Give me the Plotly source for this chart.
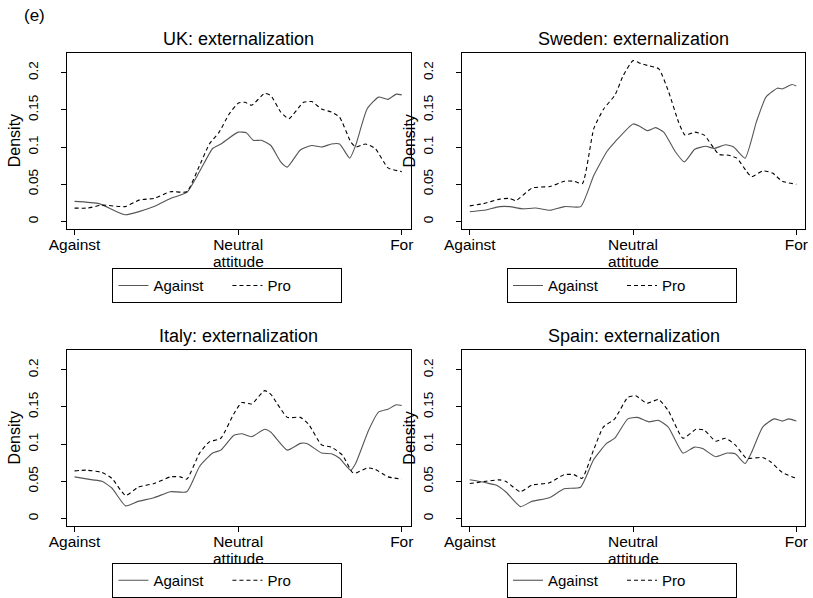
import plotly.graph_objects as go

# ---------------- data (x: 0 = Against, 5 = Neutral, 10 = For) ----------------
uk_against_x = [0, 0.75, 1.54, 2.43, 2.93, 3.43, 3.82, 4.22, 4.47, 5.0, 5.25, 5.46, 5.71, 6.0, 6.3, 6.5, 6.9, 7.25, 7.55, 7.85, 8.1, 8.41, 8.59, 8.94, 9.29, 9.58, 9.83, 10]
uk_against_y = [0.027, 0.024, 0.009, 0.020, 0.031, 0.039, 0.067, 0.098, 0.104, 0.120, 0.119, 0.109, 0.109, 0.102, 0.080, 0.073, 0.096, 0.102, 0.100, 0.104, 0.104, 0.085, 0.102, 0.151, 0.167, 0.164, 0.171, 0.170]
uk_pro_x = [0, 0.4, 0.84, 1.54, 1.99, 2.43, 2.93, 3.43, 3.78, 4.12, 4.42, 4.72, 5.01, 5.21, 5.41, 5.81, 6.0, 6.3, 6.55, 7.0, 7.25, 7.55, 7.85, 8.1, 8.44, 8.59, 8.89, 9.19, 9.58, 10]
uk_pro_y = [0.018, 0.018, 0.022, 0.020, 0.029, 0.031, 0.040, 0.040, 0.071, 0.104, 0.120, 0.144, 0.159, 0.160, 0.156, 0.172, 0.169, 0.147, 0.138, 0.160, 0.161, 0.151, 0.147, 0.140, 0.107, 0.100, 0.104, 0.098, 0.072, 0.067]

se_against_x = [0, 0.42, 0.92, 1.22, 1.61, 2.01, 2.46, 2.9, 3.4, 3.8, 4.2, 4.45, 5.0, 5.2, 5.44, 5.69, 5.94, 6.29, 6.57, 6.89, 7.23, 7.48, 7.83, 8.08, 8.43, 8.78, 9.07, 9.42, 9.57, 9.87, 10]
se_against_y = [0.013, 0.015, 0.020, 0.020, 0.017, 0.018, 0.015, 0.020, 0.020, 0.062, 0.094, 0.107, 0.131, 0.128, 0.122, 0.126, 0.120, 0.094, 0.080, 0.097, 0.101, 0.098, 0.103, 0.100, 0.085, 0.134, 0.167, 0.179, 0.178, 0.184, 0.182]
se_pro_x = [0, 0.42, 0.92, 1.21, 1.41, 1.91, 2.46, 2.9, 3.2, 3.45, 3.8, 4.1, 4.45, 4.7, 5.0, 5.24, 5.49, 5.79, 6.09, 6.39, 6.59, 6.89, 7.18, 7.48, 7.63, 7.93, 8.18, 8.48, 8.63, 8.98, 9.27, 9.57, 10]
se_pro_y = [0.021, 0.024, 0.030, 0.031, 0.028, 0.045, 0.047, 0.054, 0.054, 0.051, 0.125, 0.151, 0.170, 0.196, 0.216, 0.212, 0.209, 0.205, 0.174, 0.134, 0.116, 0.120, 0.116, 0.098, 0.090, 0.089, 0.085, 0.067, 0.060, 0.068, 0.065, 0.054, 0.050]

it_against_x = [0, 0.55, 0.84, 1.14, 1.56, 1.94, 2.43, 2.93, 3.43, 3.82, 4.22, 4.47, 4.87, 5.11, 5.41, 5.81, 6.0, 6.5, 6.9, 7.1, 7.55, 7.85, 8.1, 8.44, 8.59, 8.99, 9.29, 9.58, 9.83, 10]
it_against_y = [0.056, 0.052, 0.050, 0.041, 0.017, 0.023, 0.028, 0.036, 0.036, 0.070, 0.088, 0.092, 0.112, 0.114, 0.110, 0.120, 0.116, 0.092, 0.101, 0.101, 0.088, 0.087, 0.081, 0.065, 0.074, 0.119, 0.143, 0.147, 0.153, 0.152]
it_pro_x = [0, 0.35, 0.84, 1.14, 1.56, 1.94, 2.43, 2.93, 3.23, 3.43, 3.82, 4.12, 4.47, 4.87, 5.11, 5.41, 5.81, 6.0, 6.2, 6.5, 6.9, 7.15, 7.55, 7.85, 8.19, 8.49, 8.59, 8.94, 9.19, 9.58, 10]
it_pro_y = [0.064, 0.065, 0.062, 0.054, 0.031, 0.042, 0.047, 0.056, 0.056, 0.053, 0.088, 0.103, 0.108, 0.141, 0.156, 0.154, 0.172, 0.167, 0.154, 0.136, 0.136, 0.127, 0.099, 0.096, 0.085, 0.062, 0.061, 0.068, 0.066, 0.056, 0.053]

es_against_x = [0, 0.5, 0.8, 1.1, 1.55, 1.9, 2.44, 2.89, 3.39, 3.79, 4.19, 4.44, 4.84, 5.13, 5.48, 5.78, 6.08, 6.53, 6.88, 7.13, 7.53, 7.88, 8.13, 8.43, 8.62, 8.97, 9.32, 9.57, 9.77, 10]
es_against_y = [0.052, 0.048, 0.045, 0.036, 0.016, 0.023, 0.028, 0.040, 0.042, 0.079, 0.101, 0.108, 0.134, 0.136, 0.130, 0.132, 0.123, 0.088, 0.096, 0.094, 0.083, 0.088, 0.087, 0.074, 0.088, 0.123, 0.134, 0.131, 0.134, 0.131]
es_pro_x = [0, 0.5, 0.9, 1.1, 1.55, 1.9, 2.44, 2.89, 3.19, 3.44, 3.79, 4.09, 4.44, 4.84, 5.08, 5.43, 5.78, 6.08, 6.53, 6.93, 7.18, 7.53, 7.83, 8.13, 8.47, 8.62, 8.97, 9.22, 9.57, 10]
es_pro_y = [0.047, 0.050, 0.052, 0.050, 0.036, 0.045, 0.048, 0.059, 0.059, 0.054, 0.092, 0.123, 0.134, 0.163, 0.165, 0.155, 0.160, 0.145, 0.108, 0.120, 0.119, 0.104, 0.108, 0.099, 0.081, 0.081, 0.082, 0.076, 0.062, 0.054]

panel_titles = ["UK: externalization", "Sweden: externalization",
                "Italy: externalization", "Spain: externalization"]
x_tick_vals = [0, 5, 10]
x_tick_text = ["Against", "Neutral", "For"]
y_tick_vals = [0, 0.05, 0.1, 0.15, 0.2]
y_tick_text = ["0", "0.05", "0.1", "0.15", "0.2"]
series_names = ["Against", "Pro"]

panels = [
    (uk_against_x, uk_against_y, uk_pro_x, uk_pro_y),
    (se_against_x, se_against_y, se_pro_x, se_pro_y),
    (it_against_x, it_against_y, it_pro_x, it_pro_y),
    (es_against_x, es_against_y, es_pro_x, es_pro_y),
]

# ---------------- layout geometry ----------------
W, H = 813, 598
FONT = "Liberation Sans, Arial, Helvetica, sans-serif"
x_doms = [[50 / W, 403 / W], [455.7 / W, 808 / W]]
y_doms = [[1 - 231 / H, 1 - 53 / H], [1 - 530 / H, 1 - 352.3 / H]]

# rotated y tick labels: a blank second line keeps them clear of the tick marks
y_tick_labels = [t + "<br> " for t in y_tick_text]

fig = go.Figure()
layout = dict(
    width=W, height=H, margin=dict(l=0, r=0, t=0, b=0),
    paper_bgcolor="white", plot_bgcolor="white",
    font=dict(family=FONT, size=15, color="black"),
    showlegend=True, annotations=[],
)

legend_centers = [(215, 270), (620, 270), (215, 567), (620, 567)]

for i, (ax, ay, px, py) in enumerate(panels):
    row, col = divmod(i, 2)
    sfx = "" if i == 0 else str(i + 1)
    leg = "legend" if i == 0 else f"legend{i + 1}"
    fig.add_trace(go.Scatter(
        x=ax, y=ay, mode="lines", name=series_names[0],
        line=dict(color="#555555", width=1.1, shape="spline", smoothing=0.5),
        xaxis="x" + sfx, yaxis="y" + sfx, legend=leg))
    fig.add_trace(go.Scatter(
        x=px, y=py, mode="lines", name=series_names[1],
        line=dict(color="black", width=1.1, dash="4px,3px", shape="spline", smoothing=0.5),
        xaxis="x" + sfx, yaxis="y" + sfx, legend=leg))

    xd, yd = x_doms[col], y_doms[row]
    layout["xaxis" + sfx] = dict(
        domain=xd, anchor="y" + sfx, range=[-0.24, 10.27],
        tickvals=x_tick_vals, ticktext=x_tick_text, ticks="outside", ticklen=5,
        tickcolor="black", showline=True, linecolor="black", linewidth=1, mirror=True,
        showgrid=False, zeroline=False, tickfont=dict(size=15.5),
        ticklabelstandoff=-4, fixedrange=True)
    layout["yaxis" + sfx] = dict(
        domain=yd, anchor="x" + sfx, range=[-0.0107, 0.2267],
        tickvals=y_tick_vals, ticktext=y_tick_labels, ticks="outside", ticklen=5,
        tickcolor="black", showline=True, linecolor="black", linewidth=1, mirror=True,
        showgrid=False, zeroline=False, tickangle=-90, tickfont=dict(size=13.5),
        fixedrange=True)

    # panel title
    layout["annotations"].append(dict(
        text=panel_titles[i], x=(xd[0] + xd[1]) / 2, y=yd[1], xref="paper", yref="paper",
        xanchor="center", yanchor="bottom", yshift=2, showarrow=False,
        font=dict(size=18, family=FONT)))
    # x axis title
    layout["annotations"].append(dict(
        text="attitude", x=(xd[0] + xd[1]) / 2 + 0.3 / W, y=yd[0], xref="paper", yref="paper",
        xanchor="center", yanchor="top", yshift=-22, showarrow=False,
        font=dict(size=15.5, family=FONT)))
    # y axis title
    layout["annotations"].append(dict(
        text="Density", x=xd[0], y=(yd[0] + yd[1]) / 2, xref="paper", yref="paper",
        xanchor="right", yanchor="middle", xshift=-42, textangle=-90, showarrow=False,
        font=dict(size=16, family=FONT)))

    lx, ly = legend_centers[i]
    layout[("legend" if i == 0 else f"legend{i + 1}")] = dict(
        x=lx / W, y=1 - ly / H, xanchor="center", yanchor="top",
        orientation="h", bordercolor="black", borderwidth=1, bgcolor="white",
        font=dict(size=15, family=FONT), entrywidth=69, entrywidthmode="pixels",
        tracegroupgap=0, itemwidth=30)

layout["annotations"].append(dict(
    text="(e)", x=4 / W, y=1 - 4 / H, xref="paper", yref="paper",
    xanchor="left", yanchor="top", showarrow=False, font=dict(size=17, family=FONT)))

fig.update_layout(**layout)
fig.write_html("out.html")
